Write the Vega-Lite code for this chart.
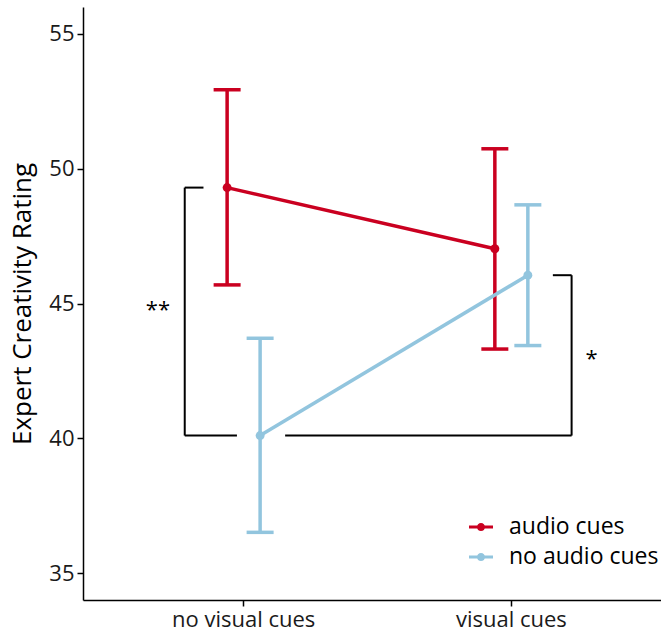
{
  "$schema": "https://vega.github.io/schema/vega-lite/v6.json",
  "width": 589,
  "height": 593,
  "autosize": "none",
  "padding": {"left": 83, "top": 7, "right": 0, "bottom": 35},
  "background": "white",
  "config": {
    "font": "Open Sans",
    "view": {"stroke": null},
    "axis": {
      "grid": false,
      "domainColor": "black",
      "domainWidth": 1.5,
      "tickColor": "black",
      "tickWidth": 1.5,
      "tickSize": 6,
      "labelColor": "#1a1a1a",
      "titleColor": "black",
      "titleFontWeight": "normal"
    }
  },
  "datasets": {
    "means": [
      {"visual": "no visual cues", "audio": "audio cues", "rating": 49.3, "lower": 45.69, "upper": 52.93},
      {"visual": "no visual cues", "audio": "no audio cues", "rating": 40.1, "lower": 36.51, "upper": 43.71},
      {"visual": "visual cues", "audio": "audio cues", "rating": 47.03, "lower": 43.31, "upper": 50.74},
      {"visual": "visual cues", "audio": "no audio cues", "rating": 46.05, "lower": 43.44, "upper": 48.66}
    ],
    "brackets": [
      {"x": 0.78, "x2": 0.85, "y": 49.3, "y2": 49.3},
      {"x": 0.78, "x2": 0.78, "y": 40.1, "y2": 49.3},
      {"x": 0.78, "x2": 0.975, "y": 40.1, "y2": 40.1},
      {"x": 1.155, "x2": 2.225, "y": 40.1, "y2": 40.1},
      {"x": 2.225, "x2": 2.225, "y": 40.1, "y2": 46.05},
      {"x": 2.155, "x2": 2.225, "y": 46.05, "y2": 46.05}
    ],
    "stars": [
      {"x": 0.68, "y": 44.75, "label": "**"},
      {"x": 2.3, "y": 42.95, "label": "*"}
    ]
  },
  "layer": [
    {
      "data": {"name": "means"},
      "encoding": {
        "x": {
          "field": "visual",
          "type": "nominal",
          "scale": {"type": "band", "paddingInner": 0.4, "paddingOuter": 0.3},
          "axis": {"title": null, "labelAngle": 0, "labelFontSize": 22, "labelPadding": 3}
        },
        "xOffset": {
          "field": "audio",
          "type": "nominal",
          "scale": {"paddingInner": 0, "paddingOuter": 0, "range": [47.3, 113.3]}
        },
        "color": {
          "field": "audio",
          "type": "nominal",
          "scale": {"domain": ["audio cues", "no audio cues"], "range": ["#CA0020", "#92C5DE"]}
        }
      },
      "layer": [
        {
          "mark": {"type": "rule", "strokeWidth": 3.5},
          "encoding": {
            "y": {
              "field": "lower",
              "type": "quantitative",
              "scale": {"domain": [34, 56], "nice": false, "zero": false},
              "axis": {
                "title": "Expert Creativity Rating",
                "values": [35, 40, 45, 50, 55],
                "titleFontSize": 26,
                "titlePadding": 13,
                "labelFontSize": 22,
                "labelPadding": 3
              }
            },
            "y2": {"field": "upper"}
          }
        },
        {
          "mark": {"type": "tick", "size": 27, "thickness": 3.5, "opacity": 1},
          "encoding": {"y": {"field": "upper", "type": "quantitative"}}
        },
        {
          "mark": {"type": "tick", "size": 27, "thickness": 3.5, "opacity": 1},
          "encoding": {"y": {"field": "lower", "type": "quantitative"}}
        },
        {
          "mark": {"type": "line", "strokeWidth": 3.5},
          "encoding": {"y": {"field": "rating", "type": "quantitative"}}
        },
        {
          "mark": {"type": "point", "filled": true, "size": 80, "opacity": 1},
          "encoding": {
            "y": {"field": "rating", "type": "quantitative"},
            "color": {
              "field": "audio",
              "type": "nominal",
              "legend": {
                "title": null,
                "orient": "none",
                "legendX": 386,
                "legendY": 508,
                "padding": 0,
                "labelFontSize": 23,
                "labelColor": "black",
                "labelOffset": 16,
                "rowPadding": 6,
                "symbolSize": 576,
                "symbolStrokeWidth": 0,
                "symbolOpacity": 1,
                "symbolType": "M-1,-0.12H1V0.12H-1Z M0.34,0A0.34,0.34,0,1,1,-0.34,0A0.34,0.34,0,1,1,0.34,0Z",
                "encode": {
                  "symbols": {
                    "update": {
                      "fill": {"scale": "color", "field": "value"},
                      "stroke": {"value": "transparent"},
                      "opacity": {"value": 1},
                      "fillOpacity": {"value": 1}
                    }
                  }
                }
              }
            }
          }
        }
      ]
    },
    {
      "layer": [
        {
          "data": {"name": "brackets"},
          "mark": {"type": "rule", "strokeWidth": 2, "color": "black"},
          "encoding": {
            "x": {
              "field": "x",
              "type": "quantitative",
              "scale": {"domain": [0.4, 2.6], "nice": false, "zero": false},
              "axis": null
            },
            "x2": {"field": "x2"},
            "y": {"field": "y", "type": "quantitative", "axis": {"title": "Expert Creativity Rating"}},
            "y2": {"field": "y2"}
          }
        },
        {
          "data": {"name": "stars"},
          "mark": {"type": "text", "fontSize": 22, "color": "black", "baseline": "middle", "align": "center"},
          "encoding": {
            "x": {"field": "x", "type": "quantitative"},
            "y": {"field": "y", "type": "quantitative"},
            "text": {"field": "label"}
          }
        }
      ]
    }
  ],
  "resolve": {"scale": {"x": "independent"}}
}
